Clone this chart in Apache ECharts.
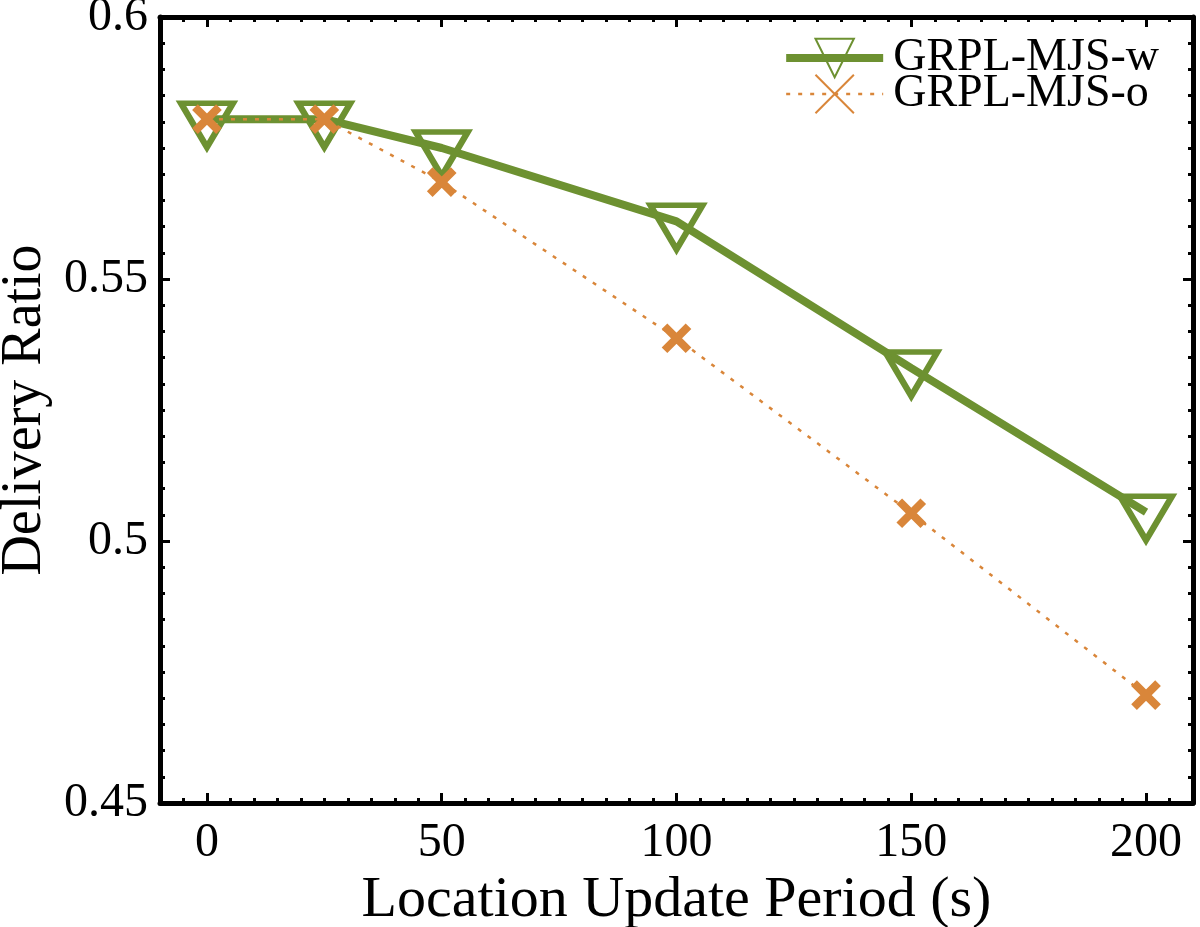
<!DOCTYPE html>
<html>
<head>
<meta charset="utf-8">
<script src="https://cdn.jsdelivr.net/npm/echarts@6/dist/echarts.min.js"></script>
<style>html,body{margin:0;padding:0;background:#fff;}#c{width:1200px;height:927px;}</style>
</head>
<body>
<div id="c"></div>
<script>
var periods = [0, 25, 50, 100, 150, 200];
var seriesW = [0.5805, 0.5805, 0.575, 0.561, 0.533, 0.5055];
var seriesO = [0.5805, 0.5805, 0.5685, 0.5387, 0.5053, 0.4706];
var seriesNames = ['GRPL-MJS-w', 'GRPL-MJS-o'];
var xTicks = [0, 50, 100, 150, 200];
var yTicks = [0.45, 0.5, 0.55, 0.6];

var GREEN = '#6d9131';
var ORANGE = '#d9863a';
var FONT = 'Liberation Serif';

function pairs(xs, ys) { return xs.map(function (x, i) { return [x, ys[i]]; }); }

var xMin = -10, xMax = 210, yMin = 0.45, yMax = 0.6;

function xAx(pos, major, labels) {
  return {
    type: 'value', position: pos, min: xMin, max: xMax, interval: 5,
    axisLine: { show: !major, onZero: false, lineStyle: { color: '#000', width: 5 } },
    axisTick: major ? { show: true, inside: true, length: 10, customValues: xTicks, lineStyle: { color: '#000', width: 3 } }
                    : { show: true, inside: true, length: 5, lineStyle: { color: '#000', width: 3 } },
    axisLabel: labels ? { show: true, customValues: xTicks, margin: 16, color: '#000', fontFamily: FONT, fontSize: 48 } : { show: false },
    splitLine: { show: false }
  };
}
function yAx(pos, major, labels) {
  return {
    type: 'value', position: pos, min: yMin, max: yMax, interval: 0.005,
    axisLine: { show: !major, onZero: false, lineStyle: { color: '#000', width: 5 } },
    axisTick: major ? { show: true, inside: true, length: 10, customValues: yTicks, lineStyle: { color: '#000', width: 3 } }
                    : { show: true, inside: true, length: 5, lineStyle: { color: '#000', width: 3 } },
    axisLabel: labels ? { show: true, customValues: yTicks, margin: 12, color: '#000', fontFamily: FONT, fontSize: 48,
                          formatter: function (v) { return String(parseFloat(v.toFixed(3))); } } : { show: false },
    splitLine: { show: false }
  };
}

var xs = [xAx('bottom', false, true), xAx('bottom', true, false), xAx('top', false, false), xAx('top', true, false)];
xs[0].name = 'Location Update Period (s)';
xs[0].nameLocation = 'middle';
xs[0].nameGap = 44;
xs[0].nameTextStyle = { color: '#000', fontFamily: FONT, fontSize: 58 };
var ys = [yAx('left', false, true), yAx('left', true, false), yAx('right', false, false), yAx('right', true, false)];
ys[0].name = 'Delivery Ratio';
ys[0].nameLocation = 'middle';
ys[0].nameGap = 102;
ys[0].nameTextStyle = { color: '#000', fontFamily: FONT, fontSize: 56 };

var chart = echarts.init(document.getElementById('c'), null, { renderer: 'canvas' });
chart.setOption({
  backgroundColor: '#fff',
  animation: false,
  grid: { left: 160, right: 7, top: 17, bottom: 124, containLabel: false, outerBoundsMode: 'none' },
  xAxis: xs,
  yAxis: ys,
  legend: {
    right: 36, top: 30, orient: 'vertical', align: 'left',
    itemWidth: 97, itemHeight: 48, itemGap: -10,
    textStyle: { color: '#000', fontFamily: FONT, fontSize: 46, padding: [0, 0, 0, 5] },
    itemStyle: { borderWidth: 2 },
    data: [
      { name: seriesNames[0], lineStyle: { width: 8 } },
      { name: seriesNames[1], lineStyle: { width: 2.5 } }
    ]
  },
  series: [
    {
      name: seriesNames[0], type: 'line', xAxisIndex: 0, yAxisIndex: 0,
      data: pairs(periods, seriesW),
      lineStyle: { color: GREEN, width: 8 },
      symbol: 'triangle', symbolRotate: 180, symbolSize: [52, 44], symbolOffset: [0, 6],
      itemStyle: { color: 'rgba(0,0,0,0)', borderColor: GREEN, borderWidth: 6 },
      z: 3
    },
    {
      name: seriesNames[1], type: 'line', xAxisIndex: 0, yAxisIndex: 0,
      data: pairs(periods, seriesO),
      lineStyle: { color: ORANGE, width: 2.5, type: [4, 8] },
      symbol: 'path://M0,0L10,10M10,0L0,10', symbolSize: 24,
      itemStyle: { color: ORANGE, borderColor: ORANGE, borderWidth: 8 },
      z: 4
    }
  ]
});
</script>
</body>
</html>
